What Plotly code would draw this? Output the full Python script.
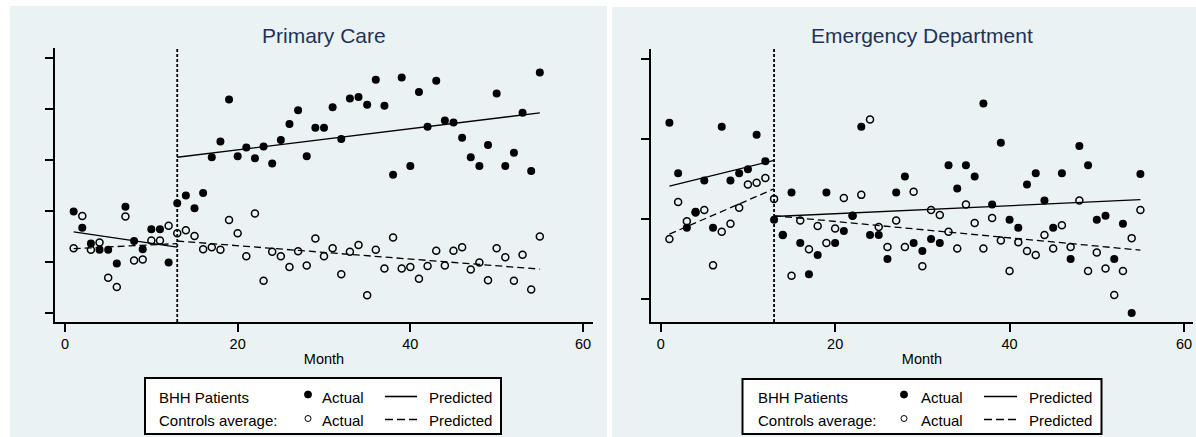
import plotly.graph_objects as go

W, H = 1196, 437

# ---------------- data ----------------
months = list(range(1, 56))
intervention_month = 13
x_ticks = [0, 20, 40, 60]
x_tick_labels = ["0", "20", "40", "60"]

# Primary Care
pc_bhh_actual = [1.99, 1.67, 1.36, 1.24, 1.24, 0.97, 2.08, 1.41, 1.25, 1.64,
                 1.64, 0.99, 2.15, 2.30, 2.05, 2.35, 3.05, 3.36, 4.18, 3.07,
                 3.24, 3.03, 3.26, 2.93, 3.39, 3.70, 3.97, 3.07, 3.63, 3.63,
                 4.03, 3.41, 4.20, 4.23, 4.08, 4.57, 4.06, 2.71, 4.61, 2.88,
                 4.33, 3.65, 4.55, 3.77, 3.73, 3.43, 3.05, 2.88, 3.29, 4.30,
                 2.88, 3.14, 3.92, 2.78, 4.71]
pc_ctrl_actual = [1.27, 1.90, 1.24, 1.38, 0.69, 0.51, 1.89, 1.03, 1.05, 1.42,
                  1.42, 1.71, 1.56, 1.62, 1.51, 1.25, 1.29, 1.24, 1.82, 1.56,
                  1.11, 1.95, 0.63, 1.20, 1.11, 0.90, 1.21, 0.93, 1.46, 1.11,
                  1.27, 0.76, 1.20, 1.33, 0.35, 1.24, 0.87, 1.48, 0.87, 0.90,
                  0.67, 0.92, 1.22, 0.93, 1.22, 1.29, 0.85, 0.99, 0.64, 1.27,
                  1.09, 0.63, 1.14, 0.46, 1.50]
pred_pre_months = [1, 13]
pred_post_months = [13, 55]
pc_bhh_pred_pre = [1.59, 1.29]
pc_bhh_pred_post = [3.05, 3.92]
pc_ctrl_pred_pre = [1.26, 1.36]
pc_ctrl_pred_post = [1.41, 0.86]

# Emergency Department
ed_bhh_actual = [2.20, 1.57, 0.89, 1.09, 1.48, 0.89, 2.15, 1.48, 1.57, 1.62,
                 2.05, 1.72, 0.99, 0.80, 1.33, 0.70, 0.31, 0.55, 1.33, 0.70,
                 0.85, 1.04, 2.15, 0.80, 0.80, 0.50, 1.33, 1.53, 0.70, 0.60,
                 0.75, 0.70, 1.67, 1.38, 1.67, 1.53, 2.44, 1.18, 1.95, 0.99,
                 0.89, 1.43, 1.57, 1.23, 0.89, 1.57, 0.50, 1.91, 1.67, 0.99,
                 1.04, 0.50, 0.94, -0.175, 1.56]
ed_ctrl_actual = [0.75, 1.21, 0.97, 1.08, 1.11, 0.42, 0.84, 0.94, 1.14, 1.43,
                  1.45, 1.51, 1.25, 0.80, 0.29, 0.98, 0.62, 0.91, 0.70, 0.88,
                  1.26, 1.04, 1.30, 2.24, 0.90, 0.65, 0.98, 0.65, 1.34, 0.41,
                  1.11, 1.05, 0.84, 0.63, 1.18, 0.95, 0.63, 1.01, 0.73, 0.35,
                  0.71, 0.60, 0.55, 0.80, 0.63, 0.92, 0.65, 1.23, 0.35, 0.58,
                  0.38, 0.05, 0.35, 0.76, 1.11]
ed_bhh_pred_pre = [1.41, 1.73]
ed_bhh_pred_post = [1.03, 1.24]
ed_ctrl_pred_pre = [0.81, 1.375]
ed_ctrl_pred_post = [1.04, 0.61]

panel_titles = ["Primary Care", "Emergency Department"]
legend_row_labels = ["BHH Patients", "Controls average:"]
legend_item_labels = ["Actual", "Predicted"]

# ---------------- styling ----------------
FONT = "Liberation Sans, Arial, sans-serif"
BG = "rgb(234,242,243)"
TITLE_COLOR = "rgb(30,50,90)"


def pxx(x):
    return x / W


def pxy(y):
    return 1 - y / H


fig = go.Figure()

panels = [
    dict(xa="x", ya="y", bhh=pc_bhh_actual, ctrl=pc_ctrl_actual,
         bpre=pc_bhh_pred_pre, bpost=pc_bhh_pred_post,
         cpre=pc_ctrl_pred_pre, cpost=pc_ctrl_pred_post),
    dict(xa="x2", ya="y2", bhh=ed_bhh_actual, ctrl=ed_ctrl_actual,
         bpre=ed_bhh_pred_pre, bpost=ed_bhh_pred_post,
         cpre=ed_ctrl_pred_pre, cpost=ed_ctrl_pred_post),
]

for p in panels:
    fig.add_trace(go.Scatter(x=months, y=p["ctrl"], mode="markers", xaxis=p["xa"], yaxis=p["ya"],
                             marker=dict(symbol="circle-open", size=7, color="black",
                                         line=dict(width=1.5, color="black")),
                             showlegend=False, hoverinfo="skip"))
    for xs, ys in [(pred_pre_months, p["cpre"]), (pred_post_months, p["cpost"])]:
        fig.add_trace(go.Scatter(x=xs, y=ys, mode="lines", xaxis=p["xa"], yaxis=p["ya"],
                                 line=dict(color="black", width=1.3, dash="7px,4px"),
                                 showlegend=False, hoverinfo="skip"))
    for xs, ys in [(pred_pre_months, p["bpre"]), (pred_post_months, p["bpost"])]:
        fig.add_trace(go.Scatter(x=xs, y=ys, mode="lines", xaxis=p["xa"], yaxis=p["ya"],
                                 line=dict(color="black", width=1.3),
                                 showlegend=False, hoverinfo="skip"))
    fig.add_trace(go.Scatter(x=months, y=p["bhh"], mode="markers", xaxis=p["xa"], yaxis=p["ya"],
                             marker=dict(symbol="circle", size=8, color="black"),
                             showlegend=False, hoverinfo="skip"))

shapes = []
annotations = []

# panel backgrounds
shapes.append(dict(type="rect", xref="paper", yref="paper", layer="below",
                   x0=pxx(10), x1=pxx(607), y0=0, y1=pxy(6),
                   fillcolor=BG, line=dict(width=0)))
shapes.append(dict(type="rect", xref="paper", yref="paper", layer="below",
                   x0=pxx(612), x1=1, y0=0, y1=pxy(7),
                   fillcolor=BG, line=dict(width=0)))

# intervention lines
for xa, ya in [("x", "y"), ("x2", "y2")]:
    shapes.append(dict(type="line", xref=xa, yref=ya + " domain",
                       x0=intervention_month, x1=intervention_month, y0=0, y1=1,
                       line=dict(color="black", width=1.8, dash="3px,2px")))

# titles
for title, cx in zip(panel_titles, [324, 922]):
    annotations.append(dict(text=title, xref="paper", yref="paper", x=pxx(cx), y=pxy(36),
                            xanchor="center", yanchor="middle", showarrow=False,
                            font=dict(family=FONT, size=21, color=TITLE_COLOR)))

# manual legends (box and item positions in pixels)
legend_specs = [
    dict(box=(145, 501, 378, 434), lab=157, mk=308, act=320, l0=385, l1=417, pred=427, r1=397.5, r2=420.5),
    dict(box=(742.5, 1101.5, 379, 434), lab=756, mk=904, act=919, l0=984, l1=1017, pred=1027, r1=397.5, r2=420.5),
]
LFS = 15
for s in legend_specs:
    bx0, bx1, by0, by1 = s["box"]
    shapes.append(dict(type="rect", xref="paper", yref="paper",
                       x0=pxx(bx0), x1=pxx(bx1), y0=pxy(by1), y1=pxy(by0),
                       fillcolor="white", line=dict(color="black", width=2)))
    for row, (rowlab, ry) in enumerate(zip(legend_row_labels, [s["r1"], s["r2"]])):
        for txt, tx in [(rowlab, s["lab"]), (legend_item_labels[0], s["act"]), (legend_item_labels[1], s["pred"])]:
            annotations.append(dict(text=txt, xref="paper", yref="paper", x=pxx(tx), y=pxy(ry),
                                    xanchor="left", yanchor="middle", showarrow=False,
                                    font=dict(family=FONT, size=LFS, color="black")))
        cy = ry - 3 if row == 0 else ry - 2
        r = 3.5 if row == 0 else 3
        shapes.append(dict(type="circle", xref="paper", yref="paper",
                           x0=pxx(s["mk"] - r), x1=pxx(s["mk"] + r), y0=pxy(cy + r), y1=pxy(cy - r),
                           fillcolor="black" if row == 0 else "white",
                           line=dict(color="black", width=1)))
        shapes.append(dict(type="line", xref="paper", yref="paper",
                           x0=pxx(s["l0"]), x1=pxx(s["l1"]), y0=pxy(ry - 1), y1=pxy(ry - 1),
                           line=dict(color="black", width=1.6,
                                     dash="solid" if row == 0 else "8px,4px")))

TFS = 14.5
axis_common_x = dict(tickvals=x_ticks, ticktext=x_tick_labels, ticks="outside", ticklen=8,
                     tickwidth=2, tickcolor="black", showline=True, linecolor="black", linewidth=2,
                     showgrid=False, zeroline=False, tickfont=dict(family=FONT, size=TFS, color="black"),
                     title=dict(text="Month", font=dict(family=FONT, size=TFS, color="black"), standoff=2))
axis_common_y = dict(ticks="outside", ticklen=8, tickwidth=2, tickcolor="black", showline=True,
                     linecolor="black", linewidth=2, showticklabels=False, showgrid=True,
                     gridcolor=BG, gridwidth=1.5, zeroline=False)

fig.update_layout(
    width=W, height=H, margin=dict(l=0, r=0, t=0, b=0),
    paper_bgcolor="white", plot_bgcolor="white", showlegend=False,
    xaxis=dict(domain=[pxx(55), pxx(593)], range=[-1.16, 61.16], anchor="y", **axis_common_x),
    yaxis=dict(domain=[pxy(322), pxy(48)], range=[-0.176, 5.19], anchor="x",
               tickvals=[0, 1, 2, 3, 4, 5], **axis_common_y),
    xaxis2=dict(domain=[pxx(651), pxx(1193)], range=[-1.11, 61.03], anchor="y2", **axis_common_x),
    yaxis2=dict(domain=[pxy(322), pxy(49)], range=[-0.287, 3.121], anchor="x2",
                tickvals=[0, 1, 2, 3], **axis_common_y),
    shapes=shapes, annotations=annotations,
)

fig.write_html("out.html", config={"displayModeBar": False},
               post_script="document.body.style.margin='0';document.body.style.overflow='hidden';")
